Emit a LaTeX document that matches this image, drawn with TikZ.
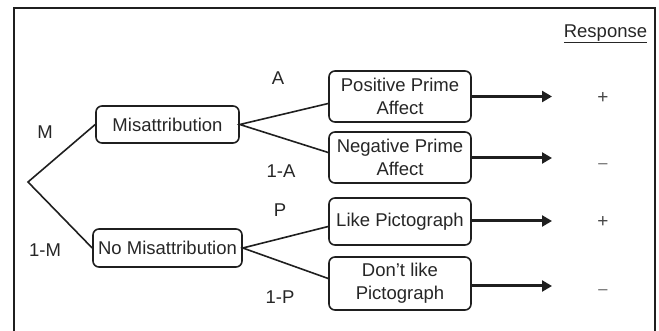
\documentclass[tikz,border=0pt]{standalone}
\usepackage{fontspec}
\setmainfont{Liberation Sans}
\usetikzlibrary{arrows.meta}
\begin{document}
\begin{tikzpicture}[x=1pt,y=-1pt,
  font=\fontsize{18.5}{23}\selectfont,
  ink/.style={draw=black!88},
  box/.style={ink, rounded corners=6pt, line width=1.6pt, align=center, inner sep=0pt, text=black!85, minimum width=142pt},
  branch/.style={ink, line width=1.6pt},
  resp/.style={ink, line width=3pt, -{Triangle[length=10pt,width=11pt]}},
  lbl/.style={text=black!85, inner sep=0pt},
  plus/.style={text=black!72, inner sep=0pt, font=\fontsize{19}{20}\selectfont},
  minus/.style={text=black!50, inner sep=0pt, font=\fontsize{19}{20}\selectfont}]
\useasboundingbox (0,0) rectangle (659,331);
\clip (0,0) rectangle (659,331);
\draw[ink, line width=1.3pt] (14,8) rectangle (655,345);

\coordinate (root) at (28,182);
\node[box, minimum width=143pt, minimum height=37pt] (mis) at (167.5,124.5) {Misattribution};
\node[box, minimum width=149pt, minimum height=38pt] (nomis) at (167.5,248) {No Misattribution};

\node[box, minimum height=51pt] (pos) at (400,96.5) {Positive Prime\\Affect};
\node[box, minimum height=51pt] (neg) at (400,157.5) {Negative Prime\\Affect};
\node[box, minimum height=47pt] (like) at (400,221.5) {Like Pictograph};
\node[box, minimum height=53pt] (dont) at (400,283.5) {Don’t like\\Pictograph};

\draw[branch] (mis.west) -- (root) -- (nomis.west);
\draw[branch] ([yshift=-7pt]pos.west) -- (mis.east) -- ([yshift=5pt]neg.west);
\draw[branch] ([yshift=-5pt]like.west) -- (nomis.east) -- ([yshift=5pt]dont.west);

\coordinate (e1) at (552,96.5);
\coordinate (e2) at (552,158);
\coordinate (e3) at (552,221);
\coordinate (e4) at (552,286);
\draw[resp] (pos.east) -- (e1);
\draw[resp] (neg.east |- e2) -- (e2);
\draw[resp] (like.east |- e3) -- (e3);
\draw[resp] (dont.east |- e4) -- (e4);

\node[lbl] (lM) at (45,132) {M};
\node[lbl] (l1M) at (45,250) {1-M};
\node[lbl] (lA) at (278,78) {A};
\node[lbl] (l1A) at (281,171) {1-A};
\node[lbl] (lP) at (280,210) {P};
\node[lbl] (l1P) at (280,297) {1-P};

\node[plus] (s1) at (603,98) {+};
\node[minus] (s2) at (603,167) {−};
\node[plus] (s3) at (603,222) {+};
\node[minus] (s4) at (603,293) {−};

\node[lbl] (resp) at (605.5,34) {\underline{Response}};
\end{tikzpicture}
\end{document}
